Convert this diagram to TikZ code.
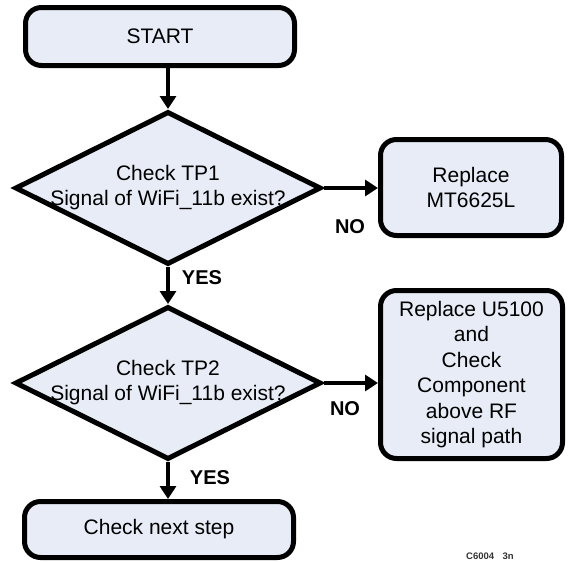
\documentclass[tikz,border=0pt]{standalone}
\usepackage{fontspec}
\setmainfont{Liberation Sans}
\usetikzlibrary{shapes.geometric,arrows.meta}
\definecolor{boxfill}{RGB}{231,236,246}
\begin{document}
\begin{tikzpicture}[x=1pt,y=-1pt,
  proc/.style={draw,line width=5pt,fill=boxfill,rounded corners=16pt,inner sep=0pt,font=\fontsize{21}{25.5}\selectfont,align=center},
  decision/.style={draw,diamond,line width=5pt,fill=boxfill,inner sep=0pt,minimum width=306pt,minimum height=153pt},
  dtext/.style={font=\fontsize{21}{25}\selectfont,align=center,inner sep=0pt},
  flow/.style={line width=4.5pt,-{Triangle[length=13pt,width=16pt]}},
  lab/.style={font=\fontsize{20}{24}\selectfont\bfseries,inner sep=0pt}]
\useasboundingbox (0,0) rectangle (568,562);
\node[proc,minimum width=269pt,minimum height=58pt] (start) at (160,36.5) {START};
\node[decision] (d1) at (168,188) {};
\node[dtext] (t1) at (168,188) {Check TP1\\Signal of WiFi\_11b exist?};
\node[proc,minimum width=181pt,minimum height=96pt] (r1) at (471,187.5) {Replace\\MT6625L};
\node[decision] (d2) at (168,383) {};
\node[dtext] (t2) at (168,383) {Check TP2\\Signal of WiFi\_11b exist?};
\node[proc,minimum width=182pt,minimum height=168pt] (r2) at (471.5,374.5) {Replace U5100\\and\\Check\\Component\\above RF\\signal path};
\node[proc,minimum width=269pt,minimum height=56pt] (next) at (159,529.5) {Check next step};
\draw[flow] (start.south -| d1.north) -- (d1.north);
\draw[flow] (d1.east) -- (d1.east -| r1.west);
\draw[flow] (d1.south) -- (d2.north);
\draw[flow] (d2.east) -- (d2.east -| r2.west);
\draw[flow] (d2.south) -- (d2.south |- next.north);
\node[lab] (no1) at (350,227) {NO};
\node[lab] (yes1) at (202,278) {YES};
\node[lab] (no2) at (345,409) {NO};
\node[lab] (yes2) at (210,478) {YES};
\node[font=\fontsize{9.5}{11}\selectfont\bfseries,text=black!80,inner sep=0pt] (code) at (490,556) {C6004\hspace{8.5pt}3n};
\end{tikzpicture}
\end{document}
